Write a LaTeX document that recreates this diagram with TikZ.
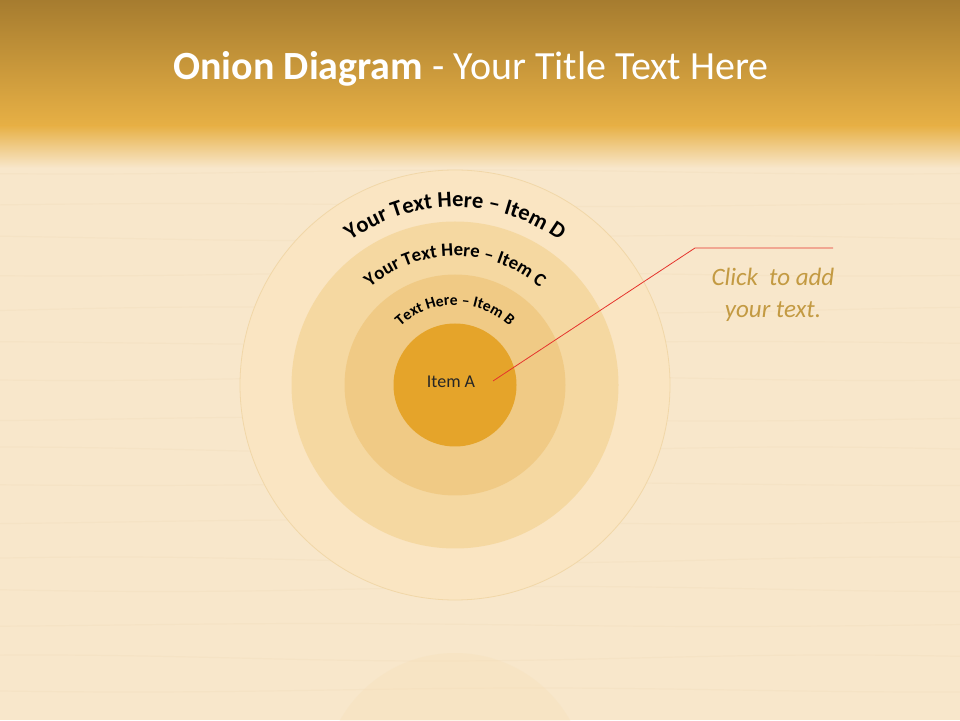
\documentclass[tikz,border=0pt]{standalone}
\usepackage{fontspec}
\setmainfont{Carlito}
\usetikzlibrary{positioning,calc,decorations.text}
\definecolor{barTop}{HTML}{A67C2F}
\definecolor{barBottom}{HTML}{E7B045}
\definecolor{woodLight}{HTML}{F8E7CB}
\definecolor{woodGrain}{HTML}{EBD2AA}
\definecolor{ringD}{HTML}{FAE5C2}
\definecolor{ringDEdge}{HTML}{F1D7A8}
\definecolor{ringC}{HTML}{F5D8A1}
\definecolor{ringB}{HTML}{F0CA85}
\definecolor{ringA}{HTML}{E5A42A}
\definecolor{calloutText}{HTML}{C39A42}
\definecolor{calloutLine}{HTML}{E5332C}

\begin{document}
\begin{tikzpicture}[x=1pt,y=1pt,
  ring/.style={circle, fill=#1, inner sep=0pt},
  ringtext/.style={decorate, decoration={text along path, text align=center, text={#1}}}
]
\useasboundingbox (0,0) rectangle (960,720);

% -------- Background --------
\begin{scope}
\clip (0,0) rectangle (960,720);
\fill[woodLight] (0,0) rectangle (960,720);
\foreach \y/\a in {30/2,62/3,95/1.5,131/2.5,160/3,198/2,236/1.5,270/3,301/2,342/2.5,377/1.5,410/3,446/2,482/2.5,515/1.5,548/2}
  \draw[woodGrain, opacity=0.18, line width=1.2]
    plot[domain=0:960, samples=30, smooth] (\x, {\y + \a*sin(0.45*\x + 7*\y)});
\shade[top color=barTop, bottom color=barBottom] (0,720) rectangle (960,594);
\shade[top color=barBottom, bottom color=woodLight] (0,594.5) rectangle (960,552);
% reflection of the onion
\fill[ringC!50!woodLight, opacity=0.3] (455,-65) circle[radius=132];
\end{scope}

% -------- Title --------
\node[anchor=base, text=white, font=\fontsize{40}{48}\selectfont] (title) at (471,640)
  {\textbf{Onion Diagram} - Your Title Text Here};

% -------- Onion rings --------
\node[ring=ringD, draw=ringDEdge, line width=0.8, minimum size=430] (itemD) at (455,335) {};
\node[ring=ringC, minimum size=327] (itemC) at (itemD.center) {};
\node[ring=ringB, minimum size=221] (itemB) at (itemD.center) {};
\node[ring=ringA, minimum size=123] (itemA) at (itemD.center) {};
\node[text=black!85, font=\fontsize{18}{21}\selectfont] (labelA) at (451,338) {Item A};

% -------- Ring labels --------
\path[ringtext={|\bfseries\fontsize{22.5}{27}\selectfont|Your Text Here – Item D}]
  (itemD.center) ++(170:178) arc[start angle=170, end angle=10, radius=178];
\path[ringtext={|\bfseries\fontsize{18.8}{22}\selectfont|Your Text Here – Item C}]
  (itemD.center) ++(170:129) arc[start angle=170, end angle=10, radius=129];
\path[ringtext={|\bfseries\fontsize{15.6}{18}\selectfont|Text Here – Item B}]
  (itemD.center) ++(175:80) arc[start angle=175, end angle=5, radius=80];

% -------- Callout --------
\coordinate (pointer) at (493,339);
\coordinate (knee) at (695,472);
\coordinate (tail) at (833,472);
\draw[calloutLine, line width=0.8] (pointer) -- (knee) -- (tail);
\node[text=calloutText, font=\itshape\fontsize{25}{32}\selectfont, align=center] (callout) at (773,425)
  {Click \ to add\\your text.};

\end{tikzpicture}
\end{document}
